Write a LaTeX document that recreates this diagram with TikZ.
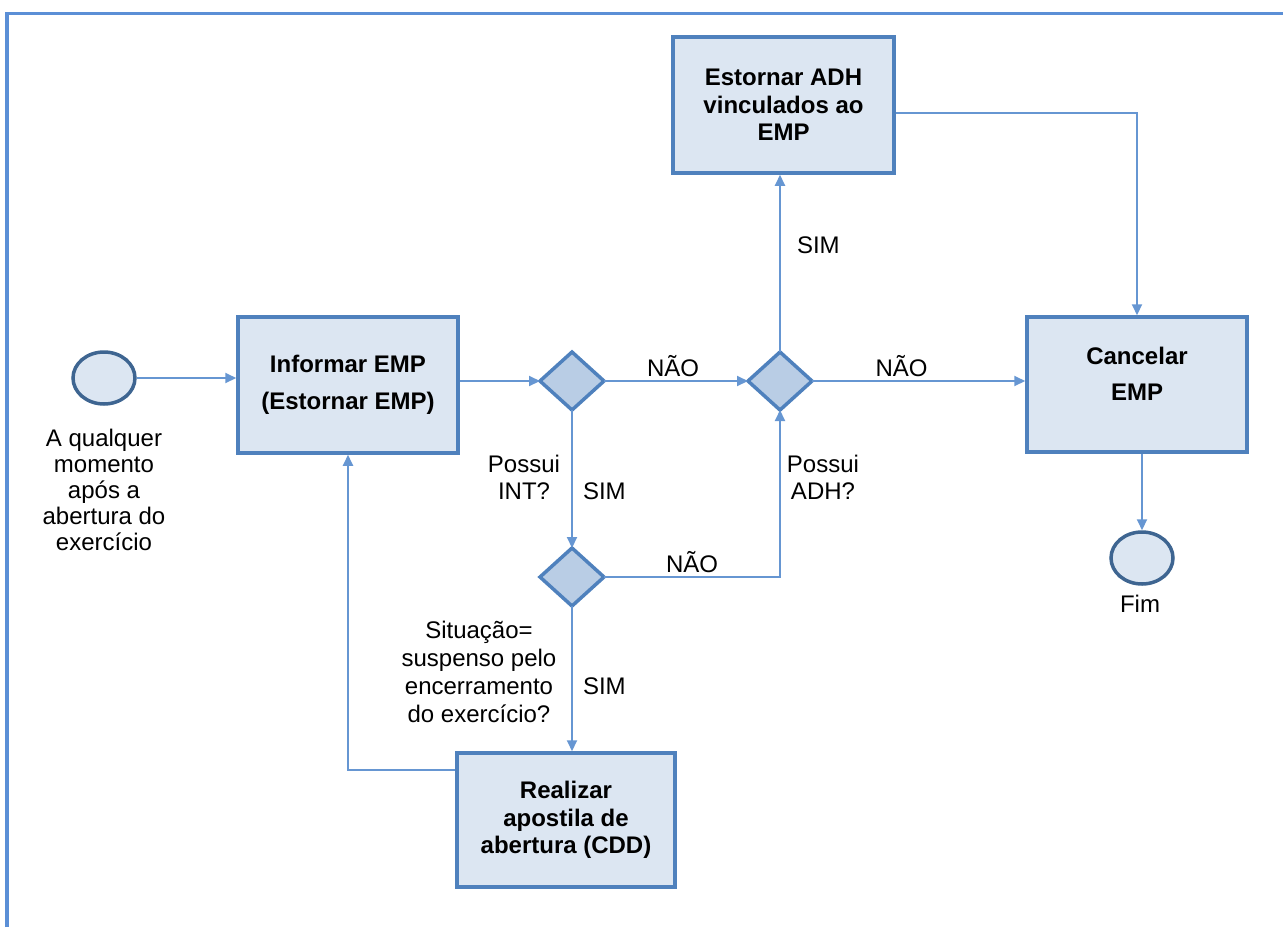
\documentclass[tikz,border=0pt]{standalone}
\usepackage{fontspec}
\setmainfont{Liberation Sans}
\usetikzlibrary{shapes.geometric,arrows.meta}
\definecolor{frameblue}{HTML}{5B8FD6}
\definecolor{linkblue}{HTML}{6696D2}
\definecolor{boxborder}{HTML}{4F81BD}
\definecolor{boxfill}{HTML}{DCE6F2}
\definecolor{diafill}{HTML}{B9CDE5}
\definecolor{circborder}{HTML}{3E6591}
\tikzset{
  txt/.style={font=\fontsize{24}{27}\selectfont, align=center, inner sep=0pt},
  taskbox/.style={draw=boxborder, fill=boxfill, line width=3.5pt, rectangle, inner sep=0pt,
     font=\fontsize{24}{27.5}\selectfont\bfseries, align=center},
  gate/.style={draw=boxborder, fill=diafill, line width=3.5pt, diamond, inner sep=0pt, outer sep=0pt,
     minimum width=64pt, minimum height=58pt},
  event/.style={draw=circborder, fill=boxfill, line width=3.5pt, ellipse, inner sep=0pt,
     minimum width=62pt, minimum height=52pt},
  link/.style={draw=linkblue, line width=2pt, -{Triangle[length=11pt,width=10pt]}},
}
\begin{document}
\begin{tikzpicture}[x=1pt,y=-1pt]
\useasboundingbox (0,0) rectangle (1283,927);
% frame
\draw[frameblue, line width=3.5pt] (7,927) -- (7,13.5) -- (1283,13.5);

% nodes
\node[event] (start) at (104,378) {};
\node[taskbox, minimum width=220pt, minimum height=136pt] (informar) at (348,385) {Informar EMP\\[9pt](Estornar EMP)};
\node[gate] (d1) at (572,381) {};
\node[gate] (d2) at (780,381) {};
\node[gate] (d3) at (572,577) {};
\node[taskbox, minimum width=221pt, minimum height=136pt] (estornar) at (783.5,105) {Estornar ADH\\vinculados ao\\EMP};
\node[taskbox, minimum width=220pt, minimum height=135pt,
  label={[font=\fontsize{24}{27}\selectfont\bfseries, align=center, yshift=11pt]center:Cancelar\\[9pt]EMP}] (cancelar) at (1137,384.5) {};
\node[taskbox, minimum width=218pt, minimum height=134pt] (realizar) at (566,820) {Realizar\\apostila de\\abertura (CDD)};
\node[event] (fim) at (1142,558) {};

% labels
\node[txt, font=\fontsize{24}{26.2}\selectfont] (lstart) at (104,490) {A qualquer\\momento\\após a\\abertura do\\exercício};
\node[txt] (lint) at (524,477) {Possui\\INT?};
\node[txt] (ladh) at (823,477) {Possui\\ADH?};
\node[txt, font=\fontsize{24}{28}\selectfont] (lsit) at (479,672) {Situação=\\suspenso pelo\\encerramento\\do exercício?};
\node[txt] (lfim) at (1140,604) {Fim};

% connectors
\draw[link] (start.east) -- (start.east -| informar.west);
\draw[link] (informar.east |- d1.west) -- (d1.west);
\draw[link] (d1.east) -- node[txt, above=3pt, pos=0.48] (nao1) {NÃO} (d2.west);
\draw[link] (d2.east) -- node[txt, above=3pt, pos=0.42] (nao2) {NÃO} (d2.east -| cancelar.west);
\draw[link] (d2.north) -- node[txt, right=16pt, pos=0.6] (sim2) {SIM} (d2.north |- estornar.south);
\draw[link] ([yshift=-8pt]estornar.east) -| (cancelar.north);
\draw[link] (d1.south) -- node[txt, right=10pt, pos=0.59] (sim1) {SIM} (d3.north);
\draw[link] (d3.east) -| node[txt, above=3pt, pos=0.25] (nao3) {NÃO} (d2.south);
\draw[link] (d3.south) -- node[txt, right=10pt, pos=0.55] (sim3) {SIM} (d3.south |- realizar.north);
\draw[link] ([yshift=50pt]realizar.west) -| (informar.south);
\draw[link] (cancelar.south -| fim.north) -- (fim.north);
\end{tikzpicture}
\end{document}
